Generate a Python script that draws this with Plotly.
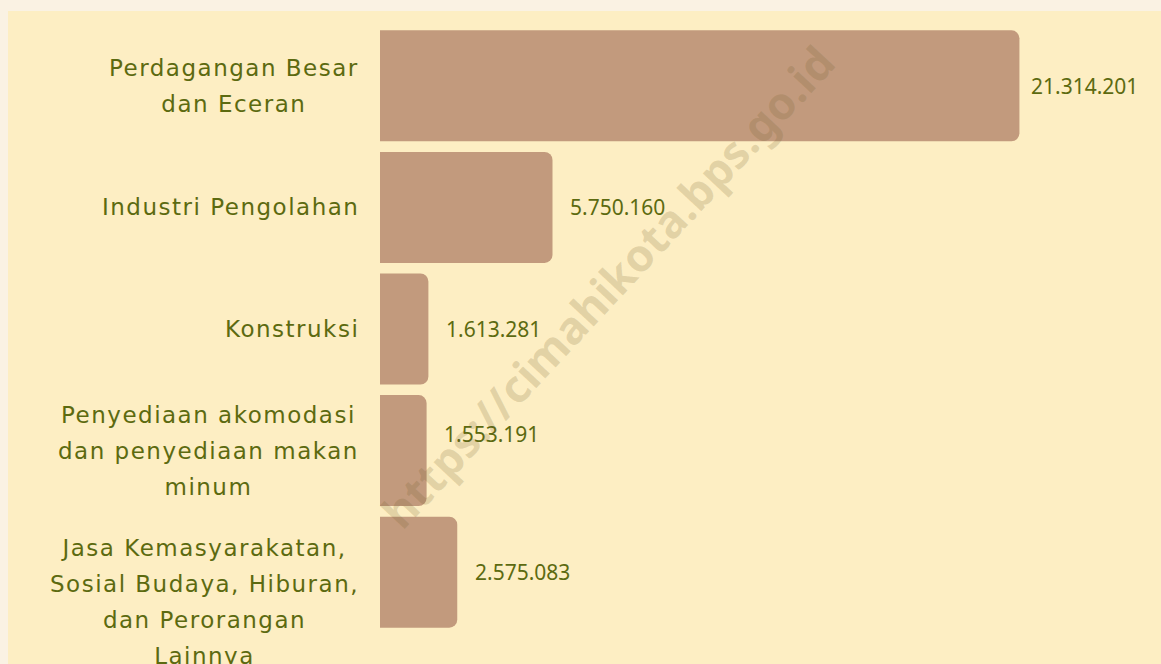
import plotly.graph_objects as go

categories = [
    "Perdagangan Besar<br>dan Eceran",
    "Industri Pengolahan",
    "Konstruksi",
    "Penyediaan akomodasi<br>dan penyediaan makan<br>minum",
    "Jasa Kemasyarakatan,<br>Sosial Budaya, Hiburan,<br>dan Perorangan<br>Lainnya",
]
values = [21314201, 5750160, 1613281, 1553191, 2575083]
value_labels = ["21.314.201", "5.750.160", "1.613.281", "1.553.191", "2.575.083"]

# small per-item vertical offsets seen in the reference rendering (style only)
label_yshift = [0, 0, 0, 0, -30]
value_yshift = [0, 0, 0, 17, 0]

W, H = 1161, 664
ML, MR, MT, MB = 380, 11, 25, 31
PW, PH = W - ML - MR, H - MT - MB

PAGE_BG = "#faf2e3"
PANEL_BG = "#fdeec3"
BAR = "#c29a7d"
TXT = "#5c6a10"
FONT = "DejaVu Sans"
VFONT = "Noto Sans"

fig = go.Figure()
fig.add_trace(go.Bar(
    x=values, y=categories, orientation="h",
    marker=dict(color=BAR, line=dict(width=0)),
    hoverinfo="skip",
))

def px_x(p):
    return (p - ML) / PW

def px_y(p):
    return (H - MB - p) / PH

# panel rectangle
fig.add_shape(type="rect", xref="paper", yref="paper", layer="below",
              x0=px_x(8), x1=px_x(W + 5), y0=px_y(H + 5), y1=px_y(11),
              fillcolor=PANEL_BG, line=dict(width=0))

# category labels (centered multi-line blocks, right-anchored)
for cat, dy in zip(categories, label_yshift):
    lines = cat.split("<br>")
    txt = "<br>".join(
        f"<span style='font-size:23px;letter-spacing:1.5px'>{l}</span>" for l in lines)
    fig.add_annotation(x=px_x(361), xref="paper", y=cat, yref="y",
                       text=txt, showarrow=False, xanchor="right", yanchor="middle",
                       align="center", yshift=dy,
                       font=dict(family=FONT, size=27.7, color=TXT))

# value labels
for cat, v, lab, dy in zip(categories, values, value_labels, value_yshift):
    fig.add_annotation(x=v, y=cat, xref="x", yref="y", text=lab, showarrow=False,
                       xanchor="center", yanchor="middle", xshift=65, yshift=dy,
                       font=dict(family=VFONT, size=21, color=TXT))

# watermark
fig.add_annotation(xref="paper", yref="paper", x=px_x(607), y=px_y(286),
                   text="<b>https://cimahikota.bps.go.id</b>", showarrow=False,
                   textangle=-47, xanchor="center", yanchor="middle",
                   font=dict(family=VFONT, size=45, color="rgba(110,90,40,0.19)"))

fig.update_layout(
    width=W, height=H,
    margin=dict(l=ML, r=MR, t=MT, b=MB),
    paper_bgcolor=PAGE_BG, plot_bgcolor="rgba(0,0,0,0)",
    bargap=0.087, barcornerradius=8, showlegend=False,
    xaxis=dict(range=[0, PW / 30 * 1e6], visible=False, fixedrange=True),
    yaxis=dict(autorange="reversed", showticklabels=False, showgrid=False,
               zeroline=False, showline=False, ticks="", fixedrange=True),
    font=dict(family=FONT, color=TXT),
)

fig.write_html("out.html", config={"displayModeBar": False},
               post_script="document.body.style.margin='0';document.body.style.padding='0';")
